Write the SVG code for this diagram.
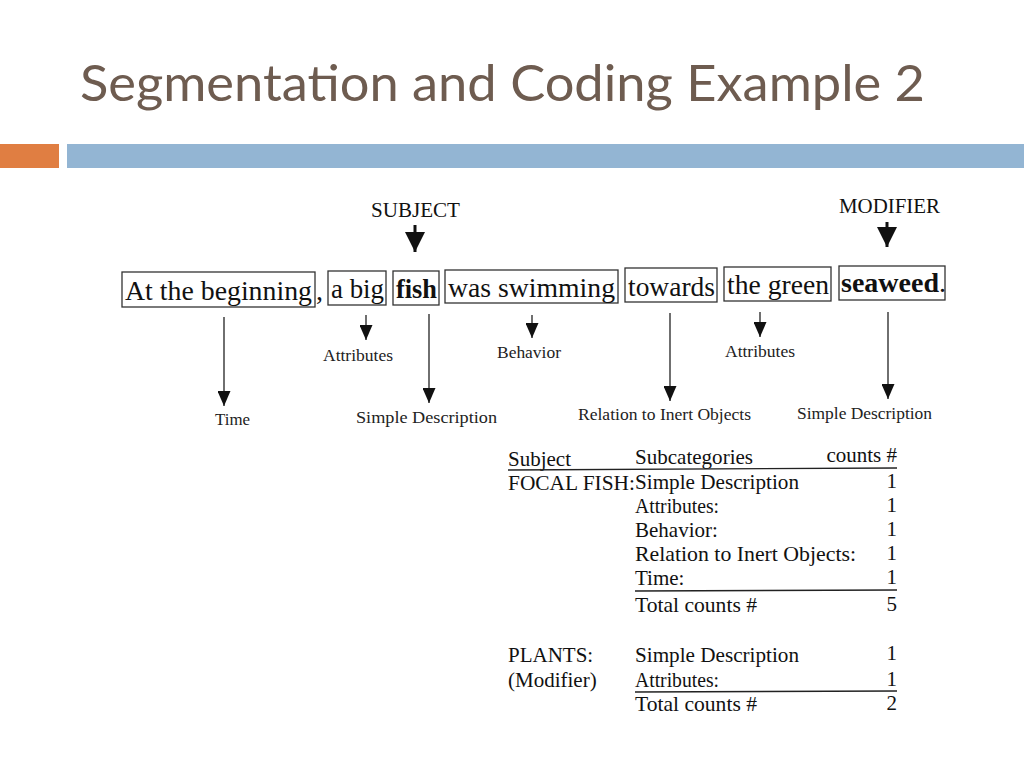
<svg xmlns="http://www.w3.org/2000/svg" width="1024" height="768" viewBox="0 0 1024 768">
<style>
.title{font-family:Lato,"Open Sans","Liberation Sans",sans-serif;font-size:50px;fill:#6e5c50}
.sent{font-family:"Liberation Serif",serif;font-size:28px;fill:#111}
.b{font-weight:bold}
.box{fill:none;stroke:#333;stroke-width:1.3}
.lab{font-family:"Liberation Serif",serif;font-size:16px;fill:#222}
.hd{font-family:"Liberation Serif",serif;font-size:20px;fill:#111}
.tb{font-family:"Liberation Serif",serif;font-size:21px;fill:#111}
.num{font-family:"Liberation Serif",serif;font-size:21px;fill:#111;text-anchor:end}
.thin{stroke:#222;stroke-width:1.3;fill:none}
.thick{stroke:#111;stroke-width:3;fill:none}
.rule{stroke:#222;stroke-width:1.3}
</style>
<defs>
<marker id="ah" viewBox="0 0 15 13" refX="15" refY="6.5" markerWidth="15" markerHeight="13" markerUnits="userSpaceOnUse" orient="auto">
<path d="M0,0 L15,6.5 L0,13 z" fill="#111"/>
</marker>
<marker id="big" viewBox="0 0 20 20" refX="20" refY="10" markerWidth="20" markerHeight="20" markerUnits="userSpaceOnUse" orient="auto">
<path d="M0,0 L20,10 L0,20 z" fill="#111"/>
</marker>
</defs>
<rect width="1024" height="768" fill="#fff"/>
<g id="title">
<text class="title" x="80" y="101" textLength="845" lengthAdjust="spacingAndGlyphs">Segmentation and Coding Example 2</text>
</g>
<g id="header-bars">
<rect x="0" y="144" width="59" height="24" fill="#e07e42"/>
<rect x="67" y="144" width="957" height="24" fill="#93b5d3"/>
</g>
<g id="subject-label"><text class="hd" x="371" y="217" textLength="89" lengthAdjust="spacingAndGlyphs">SUBJECT</text></g>
<g id="modifier-label"><text class="hd" x="839" y="213" textLength="101" lengthAdjust="spacingAndGlyphs">MODIFIER</text></g>
<g id="seg-time"><rect class="box" x="122" y="272" width="193" height="35"/><text class="sent" x="125" y="300" textLength="187" lengthAdjust="spacingAndGlyphs">At the beginning</text><text class="sent" x="316" y="300">,</text></g>
<g id="seg-abig"><rect class="box" x="328" y="271" width="58" height="34"/><text class="sent" x="331" y="298" textLength="53" lengthAdjust="spacingAndGlyphs">a big</text></g>
<g id="seg-fish"><rect class="box" x="393" y="271" width="46" height="34"/><text class="sent b" x="396" y="298" textLength="41" lengthAdjust="spacingAndGlyphs">fish</text></g>
<g id="seg-swimming"><rect class="box" x="445" y="270" width="173" height="33"/><text class="sent" x="448" y="297" textLength="167" lengthAdjust="spacingAndGlyphs">was swimming</text></g>
<g id="seg-towards"><rect class="box" x="625" y="268" width="92" height="34"/><text class="sent" x="628" y="296" textLength="87" lengthAdjust="spacingAndGlyphs">towards</text></g>
<g id="seg-green"><rect class="box" x="724" y="267" width="107" height="34"/><text class="sent" x="727" y="294" textLength="102" lengthAdjust="spacingAndGlyphs">the green</text></g>
<g id="seg-seaweed"><rect class="box" x="839" y="266" width="106" height="34"/><text class="sent" x="841" y="292"><tspan class="b">seaweed</tspan>.</text></g>
<g id="lab-time"><text class="lab" x="215" y="425" textLength="35" lengthAdjust="spacingAndGlyphs">Time</text></g>
<g id="lab-attr1"><text class="lab" x="323" y="361" textLength="70" lengthAdjust="spacingAndGlyphs">Attributes</text></g>
<g id="lab-simple1"><text class="lab" x="356" y="423" textLength="141" lengthAdjust="spacingAndGlyphs">Simple Description</text></g>
<g id="lab-behavior"><text class="lab" x="497" y="358" textLength="64" lengthAdjust="spacingAndGlyphs">Behavior</text></g>
<g id="lab-relation"><text class="lab" x="578" y="420" textLength="173" lengthAdjust="spacingAndGlyphs">Relation to Inert Objects</text></g>
<g id="lab-attr2"><text class="lab" x="725" y="357" textLength="70" lengthAdjust="spacingAndGlyphs">Attributes</text></g>
<g id="lab-simple2"><text class="lab" x="797" y="419" textLength="135" lengthAdjust="spacingAndGlyphs">Simple Description</text></g>
<g id="connectors">
<line class="thick" x1="415" y1="225" x2="415" y2="252" marker-end="url(#big)"/>
<line class="thick" x1="887" y1="222" x2="887" y2="247" marker-end="url(#big)"/>
<line class="thin" x1="224" y1="317" x2="224" y2="406" marker-end="url(#ah)"/>
<line class="thin" x1="366" y1="315" x2="366" y2="340" marker-end="url(#ah)"/>
<line class="thin" x1="429" y1="314" x2="429" y2="403" marker-end="url(#ah)"/>
<line class="thin" x1="532" y1="315" x2="532" y2="338" marker-end="url(#ah)"/>
<line class="thin" x1="670" y1="313" x2="670" y2="401" marker-end="url(#ah)"/>
<line class="thin" x1="760" y1="312" x2="760" y2="337" marker-end="url(#ah)"/>
<line class="thin" x1="888" y1="312" x2="888" y2="399" marker-end="url(#ah)"/>
</g>
<g id="table">
<text class="tb" x="508" y="466">Subject</text>
<text class="tb" x="635" y="464" textLength="118" lengthAdjust="spacingAndGlyphs">Subcategories</text>
<text class="num" x="897" y="462">counts #</text>
<line class="rule" x1="508" y1="470" x2="897" y2="468"/>
<text class="tb" x="508" y="490" textLength="127" lengthAdjust="spacingAndGlyphs">FOCAL FISH:</text>
<text class="tb" x="635" y="489" textLength="164" lengthAdjust="spacingAndGlyphs">Simple Description</text>
<text class="num" x="897" y="488">1</text>
<text class="tb" x="635" y="513" textLength="84" lengthAdjust="spacingAndGlyphs">Attributes:</text>
<text class="num" x="897" y="512">1</text>
<text class="tb" x="635" y="537">Behavior:</text>
<text class="num" x="897" y="536">1</text>
<text class="tb" x="635" y="561" textLength="221" lengthAdjust="spacingAndGlyphs">Relation to Inert Objects:</text>
<text class="num" x="897" y="560">1</text>
<text class="tb" x="635" y="585">Time:</text>
<text class="num" x="897" y="584">1</text>
<line class="rule" x1="635" y1="591" x2="897" y2="590"/>
<text class="tb" x="635" y="612" textLength="122" lengthAdjust="spacingAndGlyphs">Total counts #</text>
<text class="num" x="897" y="611">5</text>
<text class="tb" x="508" y="662">PLANTS:</text>
<text class="tb" x="635" y="662" textLength="164" lengthAdjust="spacingAndGlyphs">Simple Description</text>
<text class="num" x="897" y="660">1</text>
<text class="tb" x="508" y="687">(Modifier)</text>
<text class="tb" x="635" y="687" textLength="84" lengthAdjust="spacingAndGlyphs">Attributes:</text>
<text class="num" x="897" y="686">1</text>
<line class="rule" x1="635" y1="692" x2="897" y2="691"/>
<text class="tb" x="635" y="711" textLength="122" lengthAdjust="spacingAndGlyphs">Total counts #</text>
<text class="num" x="897" y="710">2</text>
</g>
</svg>
